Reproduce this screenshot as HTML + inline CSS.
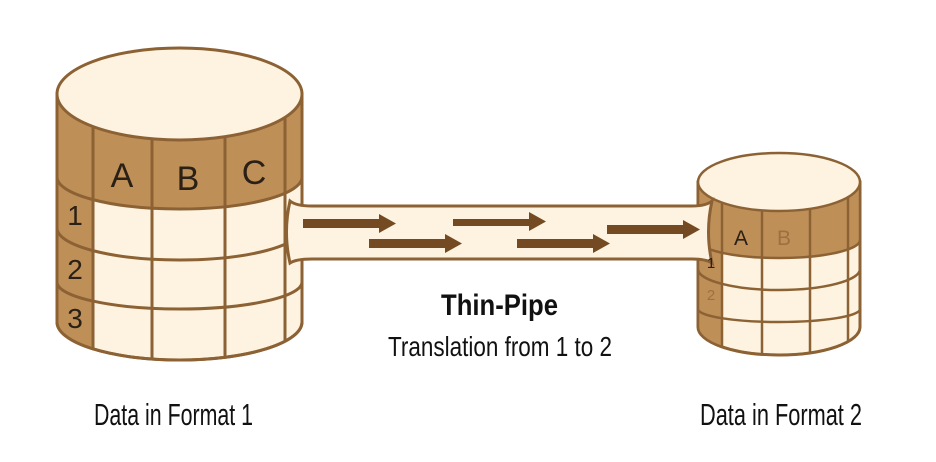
<!DOCTYPE html>
<html><head><meta charset="utf-8"><style>
html,body{margin:0;padding:0;background:#fff;}
svg{display:block;}
text{font-family:"Liberation Sans Narrow","Liberation Sans",sans-serif;}
</style></head><body>
<svg width="936" height="462" viewBox="0 0 936 462" xmlns="http://www.w3.org/2000/svg">
<defs>
<clipPath id="c1"><path d="M57,94 L57,322 A122.5 38 0 0 0 302,322 L302,94 Z"/></clipPath>
<clipPath id="c2"><path d="M698,182 L698,327 A81 28 0 0 0 860,327 L860,182 Z"/></clipPath>
</defs>
<g stroke="#8c6234" stroke-width="3" fill="none">
<!-- big cylinder -->
<path d="M57,94 L57,322 A122.5 38 0 0 0 302,322 L302,94 Z" fill="#fdf3e0"/>
<g clip-path="url(#c1)">
<path d="M57,60 L57,177 A122.5 32 0 0 0 302,177 L302,60 Z" fill="#bf8f58" stroke="none"/>
<rect x="57" y="150" width="36" height="250" fill="#bf8f58" stroke="none"/>
<path d="M57,177 A122.5 32 0 0 0 302,177"/>
<path d="M57,228 A122.5 32 0 0 0 302,228"/>
<path d="M57,282 A122.5 27 0 0 0 302,282"/>
<line x1="93" y1="60" x2="93" y2="400"/>
<line x1="152" y1="60" x2="152" y2="400"/>
<line x1="225" y1="60" x2="225" y2="400"/>
<line x1="285" y1="60" x2="285" y2="400"/>
</g>
<path d="M57,94 L57,322 A122.5 38 0 0 0 302,322 L302,94 Z"/>
<ellipse cx="179.5" cy="94" rx="122.5" ry="46" fill="#fdf3e0"/>
<!-- small cylinder -->
<path d="M698,182 L698,327 A81 28 0 0 0 860,327 L860,182 Z" fill="#fdf3e0"/>
<g clip-path="url(#c2)" stroke-width="2.5">
<path d="M698,150 L698,240 A81 18 0 0 0 860,240 L860,150 Z" fill="#bf8f58" stroke="none"/>
<rect x="698" y="220" width="24" height="150" fill="#bf8f58" stroke="none"/>
<path d="M698,240 A81 18 0 0 0 860,240"/>
<path d="M698,269 A81 21 0 0 0 860,269"/>
<path d="M698,309 A81 13 0 0 0 860,309"/>
<line x1="722" y1="150" x2="722" y2="380"/>
<line x1="762" y1="150" x2="762" y2="380"/>
<line x1="810" y1="150" x2="810" y2="380"/>
<line x1="848" y1="150" x2="848" y2="380"/>
</g>
<path d="M698,182 L698,327 A81 28 0 0 0 860,327 L860,182 Z" stroke-width="2.5"/>
<ellipse cx="779" cy="182" rx="81" ry="29" fill="#fdf3e0" stroke-width="2.5"/>
<!-- pipe -->
<path d="M290,201 Q296,206 312,206 L692,206 Q706,206 712,201 Q705,232 712,263 Q706,259 692,259 L312,259 Q296,259 290,263 Q283,232 290,201 Z" fill="#fdf3e0"/>
</g>
<!-- arrows -->
<g fill="#734a22">
<path d="M303,219 H379 V214 L396,223.5 L379,233 V228 H303 Z"/>
<path d="M369,239 H445 V234 L462,243.5 L445,253 V248 H369 Z"/>
<path d="M453,219 H529 V212 L546,221.5 L529,231 V226 H453 Z"/>
<path d="M517,239 H593 V234 L610,243.5 L593,253 V248 H517 Z"/>
<path d="M607,225 H683 V220 L700,229.5 L683,239 V234 H607 Z"/>
</g>
<!-- cylinder labels -->
<g fill="#2a2016" font-size="34" text-anchor="middle" font-family="Liberation Sans, sans-serif">
<text x="122" y="187" style="font-family:'Liberation Sans',sans-serif">A</text>
<text x="188" y="190" style="font-family:'Liberation Sans',sans-serif">B</text>
<text x="254" y="184" style="font-family:'Liberation Sans',sans-serif">C</text>
<text x="75" y="225" font-size="28" style="font-family:'Liberation Sans',sans-serif">1</text>
<text x="75" y="279" font-size="28" style="font-family:'Liberation Sans',sans-serif">2</text>
<text x="75" y="328" font-size="28" style="font-family:'Liberation Sans',sans-serif">3</text>
<text x="741" y="245" font-size="21" style="font-family:'Liberation Sans',sans-serif">A</text>
<text x="784" y="245" font-size="21" fill="#9e7040" style="font-family:'Liberation Sans',sans-serif">B</text>
<text x="711" y="268" font-size="15" style="font-family:'Liberation Sans',sans-serif">1</text>
<text x="711" y="300" font-size="15" fill="#9e7040" style="font-family:'Liberation Sans',sans-serif">2</text>
</g>
<!-- text -->
<text x="441" y="315" font-size="30" font-weight="bold" fill="#111" textLength="117" lengthAdjust="spacingAndGlyphs">Thin-Pipe</text>
<text x="388" y="356" font-size="28" fill="#111" textLength="224" lengthAdjust="spacingAndGlyphs">Translation from 1 to 2</text>
<text x="94" y="425" font-size="31" fill="#111" textLength="159" lengthAdjust="spacingAndGlyphs">Data in Format 1</text>
<text x="700" y="425" font-size="31" fill="#111" textLength="162" lengthAdjust="spacingAndGlyphs">Data in Format 2</text>
</svg>
</body></html>
